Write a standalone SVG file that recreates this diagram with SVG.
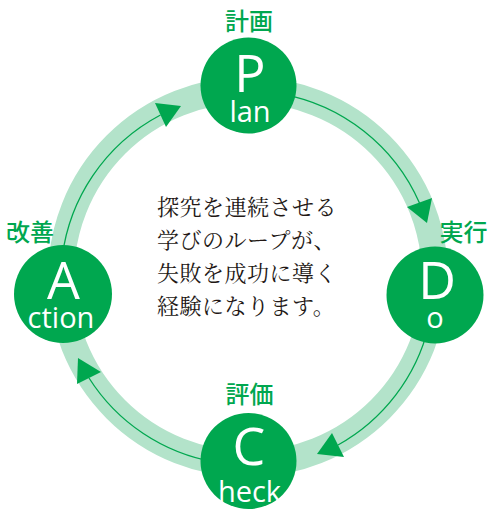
<svg xmlns="http://www.w3.org/2000/svg" width="495" height="513" viewBox="0 0 495 513">
<style>
.band{fill:none;stroke:#b3e3ca;stroke-width:26}
.line{fill:none;stroke:#00a74f;stroke-width:1.3}
.head{fill:#00a74f}
.node{fill:#00a74f}
.big{font-family:"Open Sans","Noto Sans",sans-serif;font-size:52px;fill:#fff;text-anchor:middle}
.small{font-family:"Open Sans","Noto Sans",sans-serif;font-size:29px;fill:#fff;text-anchor:middle}
.lbl{font-family:"Noto Sans CJK JP",sans-serif;font-size:24px;font-weight:500;fill:#00a74f;text-anchor:middle}
.body{font-family:"Noto Serif CJK JP","Noto Sans CJK JP",serif;font-size:22px;fill:#231815;letter-spacing:0.5px}
</style>
<rect width="495" height="513" fill="#fff"/>
<g id="connectors">
<circle class="band" cx="248" cy="277" r="187"/>
<path class="line" d="M61.7 261.7 A187 187 0 0 1 160.5 115"/>
<polygon class="head" points="155,103 181,106 166,127"/>
<path class="line" d="M280.5 93.8 A187 187 0 0 1 419.5 203"/>
<polygon class="head" points="407,207 432,198 427,223"/>
<path class="line" d="M428.6 326.4 A187 187 0 0 1 338 445"/>
<polygon class="head" points="332,433 344,457 317,454"/>
<path class="line" d="M215.5 462.2 A187 187 0 0 1 89 378"/>
<polygon class="head" points="78,358 101,372 77,384"/>
</g>
<g id="plan">
<circle class="node" cx="248.5" cy="85.5" r="48"/>
<text class="big" x="250" y="92">P</text>
<text class="small" x="250" y="122">lan</text>
<text class="lbl" x="249" y="30">計画</text>
</g>
<g id="do">
<circle class="node" cx="435" cy="295" r="48.5"/>
<text class="big" x="437" y="299">D</text>
<text class="small" x="435" y="328">o</text>
<text class="lbl" x="463.5" y="241">実行</text>
</g>
<g id="check">
<circle class="node" cx="248.5" cy="461" r="48"/>
<text class="big" x="249" y="465">C</text>
<text class="small" x="249.5" y="502">heck</text>
<text class="lbl" x="249.5" y="403">評価</text>
</g>
<g id="action">
<circle class="node" cx="63" cy="294" r="49"/>
<text class="big" x="63.5" y="299">A</text>
<text class="small" x="61" y="328">ction</text>
<text class="lbl" x="30" y="241">改善</text>
</g>
<g id="message">
<text class="body" x="157" y="215">探究を連続させる</text>
<text class="body" x="157" y="248">学びのループが、</text>
<text class="body" x="157" y="281">失敗を成功に導く</text>
<text class="body" x="157" y="314">経験になります。</text>
</g>
</svg>
